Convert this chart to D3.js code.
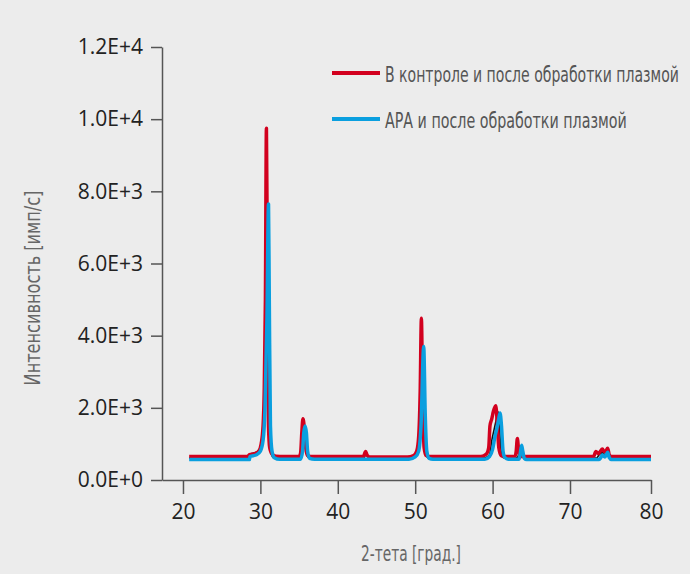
<!DOCTYPE html>
<html>
<head>
<meta charset="utf-8">
<script src="https://cdn.jsdelivr.net/npm/d3@7/dist/d3.min.js"></script>
<style>
  body { margin: 0; background: #ececec; }
  svg { display: block; }
</style>
</head>
<body>
<div id="chart"></div>
<script>
// series: [2-theta, intensity]
var controlSeries = [
  [20.8,650],[28.3,650],[28.6,700],[29.3,730],[29.8,800],[30.1,1000],[30.35,1500],[30.5,2500],
  [30.65,5000],[30.78,9750],[30.9,6000],[31.05,1500],[31.2,900],[31.5,720],[32,660],[33,650],
  [35.0,650],[35.2,750],[35.35,1300],[35.5,1700],[35.65,1500],[35.85,900],[36.1,680],[36.5,650],
  [43.3,650],[43.6,790],[43.8,680],[44.1,640],[49,640],[49.8,680],[50.2,800],[50.45,1200],
  [50.65,2500],[50.8,4480],[50.95,2500],[51.15,900],[51.4,680],[52,650],[58.5,650],[59.2,720],
  [59.5,900],[59.66,1500],[59.9,1700],[60.1,1900],[60.4,2060],[60.6,1600],[60.8,900],[61.1,680],
  [61.5,650],[62.9,650],[63.05,800],[63.2,1150],[63.35,850],[63.55,660],[64,650],[72.9,650],
  [73.2,790],[73.5,730],[73.7,780],[74.0,860],[74.2,790],[74.4,800],[74.65,880],[74.85,700],
  [75.1,650],[80,650]
];
var apaSeries = [
  [20.8,570],[28.6,570],[28.65,650],[29.5,700],[30.0,800],[30.35,1100],[30.6,2000],[30.85,4500],
  [31.05,7650],[31.15,5000],[31.3,1500],[31.5,800],[31.8,620],[32.5,575],[35.2,575],[35.45,800],
  [35.6,1300],[35.78,1500],[35.95,1300],[36.1,800],[36.35,600],[37,575],[49.2,575],[50,640],
  [50.45,800],[50.75,1500],[51.1,3700],[51.3,1800],[51.5,800],[51.8,600],[52.3,575],[59,575],
  [59.6,650],[60.0,850],[60.3,1200],[60.57,1450],[60.8,1700],[60.96,1860],[61.15,1500],[61.35,800],
  [61.6,620],[62,575],[63.4,575],[63.55,700],[63.75,960],[63.9,800],[64.1,600],[64.4,570],
  [73.6,570],[73.8,620],[74.0,690],[74.3,640],[74.45,680],[74.65,770],[74.85,620],[75.1,570],[80,570]
];
var plasmaSeries = [
  [20.8,610],[28.4,610],[28.7,720],[29.4,760],[29.9,850],[30.2,1100],[30.5,2000],[30.75,4500],
  [30.95,7600],[31.05,4500],[31.2,1300],[31.4,750],[31.7,620],[35.1,620],[35.35,900],[35.5,1400],
  [35.62,1600],[35.8,1300],[35.95,800],[36.2,620],[43.4,620],[43.7,760],[43.9,640],[44.2,600],
  [49.2,610],[50,680],[50.4,850],[50.7,1800],[50.95,3500],[51.15,1500],[51.35,750],[51.7,610],
  [59,610],[59.6,700],[59.9,1100],[60.2,1400],[60.5,1700],[60.7,1900],[60.85,1600],[61.1,800],
  [61.4,620],[63.2,620],[63.45,800],[63.6,950],[63.75,750],[64,610],[73.3,610],[73.6,700],
  [74.0,760],[74.3,700],[74.6,820],[74.9,700],[75.2,610],[80,610]
];

var xTicks = [20, 30, 40, 50, 60, 70, 80];
var yTicks = [0, 2000, 4000, 6000, 8000, 10000, 12000];
var yTickLabels = ["0.0E+0", "2.0E+3", "4.0E+3", "6.0E+3", "8.0E+3", "1.0E+4", "1.2E+4"];
var legendNames = ["В контроле и после обработки плазмой", "АРА и после обработки плазмой"];

var width = 690, height = 574;
var red = "#d2001e", blue = "#0a9fdf";
var narrowFont = "'DejaVu Sans Condensed', 'Liberation Sans Narrow', sans-serif";

var svg = d3.select("#chart").append("svg")
  .attr("width", width)
  .attr("height", height);

svg.append("rect").attr("width", width).attr("height", height).attr("fill", "#ececec");

// the last decade of the original axis is a bit wider than the others
var x = d3.scaleLinear().domain([17.29, 70, 80]).range([162, 570, 651]);
var y = d3.scaleLinear().domain([0, 12000]).range([480, 47]);

var xAxis = svg.append("g")
  .attr("transform", "translate(0,480)")
  .call(d3.axisBottom(x).tickValues(xTicks).tickSize(14).tickSizeOuter(0).tickPadding(10));

var yAxis = svg.append("g")
  .attr("transform", "translate(162,0)")
  .call(d3.axisLeft(y).tickValues(yTicks).tickSize(11).tickSizeOuter(0).tickPadding(8)
    .tickFormat(function(d, i) { return yTickLabels[i]; }));

[xAxis, yAxis].forEach(function(g) {
  g.select(".domain").attr("stroke", "#555").attr("stroke-width", 1.5);
  g.selectAll(".tick line").attr("stroke", "#555").attr("stroke-width", 1.5);
  g.selectAll(".tick text")
    .attr("fill", "#222")
    .attr("font-family", "'Open Sans', sans-serif")
    .attr("font-size", "21px");
});

var line = d3.line()
  .x(function(d) { return x(d[0]); })
  .y(function(d) { return y(d[1]); })
  .curve(d3.curveMonotoneX);

svg.append("path").datum(plasmaSeries)
  .attr("d", line).attr("fill", "none").attr("stroke", "#111").attr("stroke-width", 1.6);
svg.append("path").datum(controlSeries)
  .attr("d", line).attr("fill", "none").attr("stroke", red).attr("stroke-width", 3.5)
  .attr("stroke-linejoin", "round");
svg.append("path").datum(apaSeries)
  .attr("d", line).attr("fill", "none").attr("stroke", blue).attr("stroke-width", 3.5)
  .attr("stroke-linejoin", "round");

// squeeze a text horizontally so it is `w` px wide (the original font is condensed)
function narrowText(txt, tx, ty, w, rotate, anchor, size, color) {
  var g = svg.append("g");
  var t = g.append("text")
    .text(txt)
    .attr("text-anchor", anchor)
    .attr("font-family", narrowFont)
    .attr("font-size", size)
    .attr("fill", color);
  var k = w / t.node().getComputedTextLength();
  g.attr("transform", "translate(" + tx + "," + ty + ")" + (rotate ? " rotate(-90)" : "") + " scale(" + k + ",1)");
}

// legend
var legendWidths = [294, 242];
svg.selectAll("line.legend")
  .data(legendNames)
  .enter()
  .append("line")
  .attr("x1", 332).attr("x2", 380)
  .attr("y1", function(d, i) { return 73 + i * 46; })
  .attr("y2", function(d, i) { return 73 + i * 46; })
  .attr("stroke", function(d, i) { return i ? blue : red; })
  .attr("stroke-width", 4);

legendNames.forEach(function(d, i) {
  narrowText(d, 385, 82 + i * 46, legendWidths[i], false, "start", "22px", "#555");
});

// axis titles
narrowText("2-тета [град.]", 411, 561, 100, false, "middle", "21px", "#666");
narrowText("Интенсивность [имп/с]", 40, 288, 195, true, "middle", "21px", "#666");
</script>
</body>
</html>
